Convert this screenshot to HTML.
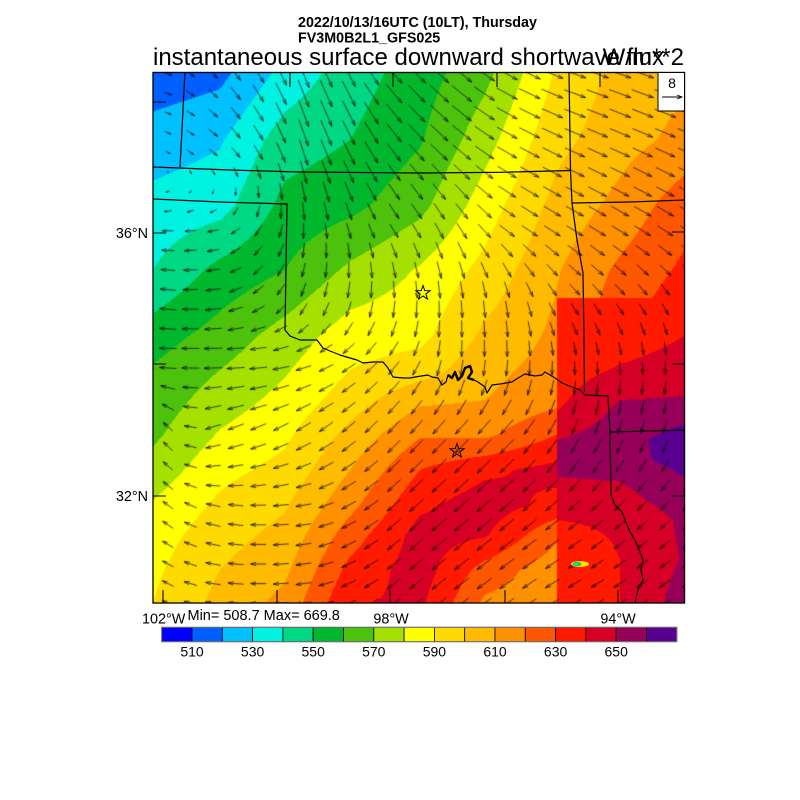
<!DOCTYPE html>
<html><head><meta charset="utf-8">
<style>
html,body{margin:0;padding:0;background:#fff;}
#wrap{position:relative;width:800px;height:800px;overflow:hidden;background:#fff;}
canvas{position:absolute;left:0;top:0;}
svg{position:absolute;left:0;top:0;}
text{font-family:"Liberation Sans",Arial,sans-serif;fill:#000;}
</style></head><body>
<div id="wrap">
<canvas id="c" width="800" height="800"></canvas>
<svg width="800" height="800" viewBox="0 0 800 800">
  <!-- speck -->
  <ellipse cx="580" cy="564" rx="9" ry="3" fill="#ffe000"/>
  <ellipse cx="577" cy="564" rx="4.5" ry="2.2" fill="#40c020"/>
  <ellipse cx="576" cy="564" rx="2" ry="1.8" fill="#00d8d0"/>
  <g fill="none" stroke="#000" stroke-width="1.2" stroke-linejoin="round">
    <path d="M185,72 L180,167"/>
    <path d="M153,167 L230,170 L300,172 L420,173 L500,172.3 L571,170.5"/>
    <path d="M569,72 L570.5,171 L572,203 L577,240 L583,273 L584,340 L584.5,392"/>
    <path d="M572,203 L630,202 L685,200"/>
    <path d="M153,199 L220,202 L287,204 L285,330"/>
    <path d="M285,330 L290,336 L295,338 L300,340 L317,340 L323,348 L330,351 L340,355 L350,358 L357,360 L363,363 L373,362 L383,362 L388,368 L393,377 L403,378 L410,378 L415,377 L428,375 L432,377 L438,378 L442,385 L446,382 L448,375 L452,378 L455,372 L458,380 L462,376 L465,368 L470,366 L472,372 L468,378 L474,380 L478,382 L485,387 L487,393 L492,385 L500,384 L512,382 L518,378 L525,374 L535,376 L542,375 L545,372 L550,375 L555,378 L562,383 L572,387 L580,390 L585,395 L608,396"/>
    <path d="M448,375 L452,378 L455,372 L458,380 L462,376 L465,368 L470,366 L472,372 L468,378 L474,380" stroke-width="2.4"/>
    <path d="M608,396 L610,432 L611,495 L615,505 L622,512 L625,520 L630,532 L635,540 L640,552 L643,560 L641,570 L643,580 L638,590 L636,598 L635,603"/>
    <path d="M610,432 L650,431 L685,430"/>
  </g>
  <!-- stars -->
  <g fill="none" stroke="#000" stroke-width="1">
    <polygon transform="translate(423,293)" points="0,-7.5 1.76,-2.43 7.13,-2.32 2.85,0.93 4.41,6.07 0,3 -4.41,6.07 -2.85,0.93 -7.13,-2.32 -1.76,-2.43"/>
    <polygon transform="translate(457,451)" points="0,-7.5 1.76,-2.43 7.13,-2.32 2.85,0.93 4.41,6.07 0,3 -4.41,6.07 -2.85,0.93 -7.13,-2.32 -1.76,-2.43"/>
  </g>
  <!-- ticks -->
  <g stroke="#000" stroke-width="1.1" fill="none">
    <path d="M153,102 h13 M153,233 h13 M153,364 h13 M153,496 h13"/>
    <path d="M685,232 h-13 M685,364 h-13 M685,496 h-13"/>
    <path d="M290,72 v15 M393,72 v15 M497,72 v15 M600,72 v15"/>
    <path d="M163,603 v-13 M277,603 v-13 M390,603 v-13 M505,603 v-13 M618,603 v-13"/>
  </g>
  <!-- frame -->
  <rect x="153" y="72.5" width="531.5" height="530.5" fill="none" stroke="#000" stroke-width="1.3"/>
  <!-- ref vector legend -->
  <rect x="658" y="72.5" width="26.5" height="38.5" fill="#fff" stroke="#000" stroke-width="1"/>
  <text x="672" y="88" font-size="14" text-anchor="middle">8</text>
  <path d="M662,97 L682,97 M677,95 L682,97 L677,99" stroke="#000" stroke-width="0.9" fill="none"/>
  <!-- titles -->
  <text x="298" y="27" font-size="14.3" font-weight="bold">2022/10/13/16UTC (10LT), Thursday</text>
  <text x="298" y="42.5" font-size="14.3" font-weight="bold">FV3M0B2L1_GFS025</text>
  <text x="153" y="65" font-size="24">instantaneous surface downward shortwave flux</text>
  <text x="684" y="65" font-size="24" text-anchor="end">W/m**2</text>
  <!-- axis labels -->
  <text x="148" y="238" font-size="14.4" text-anchor="end">36°N</text>
  <text x="148" y="501" font-size="14.4" text-anchor="end">32°N</text>
  <text x="142" y="623.5" font-size="14.4">102°W</text>
  <text x="391" y="623.5" font-size="14.4" text-anchor="middle">98°W</text>
  <text x="618" y="623.5" font-size="14.4" text-anchor="middle">94°W</text>
  <text x="187.5" y="620" font-size="14.5">Min= 508.7 Max= 669.8</text>
  <!-- colorbar -->
  <g id="cb"></g>
  <g font-size="14" text-anchor="middle">
    <text x="192" y="656.5">510</text>
    <text x="252.6" y="656.5">530</text>
    <text x="313.2" y="656.5">550</text>
    <text x="373.8" y="656.5">570</text>
    <text x="434.4" y="656.5">590</text>
    <text x="495" y="656.5">610</text>
    <text x="555.6" y="656.5">630</text>
    <text x="616.2" y="656.5">650</text>
  </g>
</svg>
</div>
<script>
(function(){
var COLS=["#0000ff","#0060ff","#00c0ff","#00f2e0","#00d884","#00b82e","#4cc20c","#a5e100","#ffff00","#ffda00","#ffbb00","#ff9000","#ff5600","#ff1a00","#d60026","#960059","#5a0090"];
var cb=document.getElementById('cb');var ns="http://www.w3.org/2000/svg";
for(var i=0;i<17;i++){var r=document.createElementNS(ns,'rect');r.setAttribute('x',161.7+30.3*i);r.setAttribute('y',627.3);r.setAttribute('width',30.3);r.setAttribute('height',14.4);r.setAttribute('fill',COLS[i]);r.setAttribute('stroke','#000');r.setAttribute('stroke-width','0.8');cb.appendChild(r);}
var fr=document.createElementNS(ns,'rect');fr.setAttribute('x',161.7);fr.setAttribute('y',627.3);fr.setAttribute('width',515.1);fr.setAttribute('height',14.4);fr.setAttribute('fill','none');fr.setAttribute('stroke','#777');fr.setAttribute('stroke-width','1');cb.appendChild(fr);

var MX=[153,220,285,350,420,485,556,620,685];
var MY=[72,140,205,270,335,370,400,435,470,505,535,570,603];
var MV=[
[513,517,533,545,555,567,591,603,608],
[525,529,545,550,559,576,597,606,613],
[533,536,553,557,567,585,603,613,626],
[540,553,560,572,581,593,609,622,632],
[555,564,574,585,587,602,612,628,640],
[561,570,579,590,595,607,614,630,640],
[564,575,583,595,608,610,617,630,640],
[568,581,588,603,619,618,630,640,640],
[574,587,593,610,630,638,643,645,645],
[581,592,599,617,638,645,637,640,640],
[585,596,603,625,644,641,622,630,630],
[588,600,608,633,645,626,614,630,630],
[590,603,613,639,642,618,613,630,630]];
var RX=[558,620,685];
var RY=[298,335,370,400,420,440,460,477,500,520,560,603];
var RV=[[631,634,640],[633,635,640],[635,641,644],[638,650,651],[642,654,659],[650,657,664],[655,656,664],[650,651,660],[645,646,656],[640,641,652],[635,640,651],[633,640,655]];
function bil(xs,ys,rows,x,y){
 x=Math.max(xs[0],Math.min(xs[xs.length-1],x));y=Math.max(ys[0],Math.min(ys[ys.length-1],y));
 var i=0;while(i<xs.length-2&&x>xs[i+1])i++;var j=0;while(j<ys.length-2&&y>ys[j+1])j++;
 var tx=(x-xs[i])/(xs[i+1]-xs[i]),ty=(y-ys[j])/(ys[j+1]-ys[j]);
 return rows[j][i]*(1-tx)*(1-ty)+rows[j][i+1]*tx*(1-ty)+rows[j+1][i]*(1-tx)*ty+rows[j+1][i+1]*tx*ty;}
function hex(h){return [parseInt(h.substr(1,2),16),parseInt(h.substr(3,2),16),parseInt(h.substr(5,2),16)];}
var RGB=COLS.map(hex);
var cv=document.getElementById('c');var ctx=cv.getContext('2d');
var X0=153,Y0=72,W=532,H=531;
var img=ctx.createImageData(W,H);var d=img.data;
for(var py=0;py<H;py++){for(var px=0;px<W;px++){
 var x=X0+px+0.5,y=Y0+py+0.5,v;
 if(x>=557.5&&y>=298)v=bil(RX,RY,RV,x,y);else v=bil(MX,MY,MV,x,y);
 var b=Math.floor((v-500)/10);if(b<0)b=0;if(b>16)b=16;
 var c=RGB[b];var o=(py*W+px)*4;d[o]=c[0];d[o+1]=c[1];d[o+2]=c[2];d[o+3]=255;}}
ctx.putImageData(img,X0,Y0);
var WX=[165,215,260,305,350,400,450,510,570,630,680];
var WY=[80,150,230,300,360,430,510,590];
var UV=[
[[7,2],[8,8],[10,16],[10,25],[12,23],[15,16],[18,16],[19,10],[20,7],[20,7],[20,7]],
[[4,2],[8,6],[8,13],[8,24],[11,22],[13,16],[16,14],[18,10],[18,8],[18,8],[18,8]],
[[-10,0],[-10,2],[-6,10],[0,14],[4,14],[8,12],[8,15],[14,10],[15,9],[15,9],[14,9]],
[[-15,-2],[-14,2],[-10,7],[-5,12],[-3,15],[0,16],[1,16],[3,15],[8,10],[8,10],[6,10]],
[[-16,0],[-17,0],[-16,1],[-14,4],[-12,8],[-9,12],[-1,15],[0,15],[1,12],[1,12],[0,12]],
[[-8,-9],[-14,5],[-14,6],[-13,8],[-12,10],[-11,12],[-12,13],[-12,13],[-6,14],[-4,13],[-4,12]],
[[-9,-7],[-13,-3],[-14,0],[-14,2],[-13,7],[-12,11],[-14,12],[-13,11],[-11,9],[-10,9],[-9,9]],
[[-10,-5],[-14,-2],[-14,0],[-14,2],[-13,6],[-12,10],[-13,10],[-13,9],[-12,7],[-11,7],[-10,7]]];
var U=UV.map(function(r){return r.map(function(p){return p[0]*1.1;});});
var V=UV.map(function(r){return r.map(function(p){return p[1]*1.1;});});
ctx.save();ctx.beginPath();ctx.rect(153,72,531.5,531);ctx.clip();
ctx.strokeStyle="rgba(0,0,0,0.85)";ctx.lineWidth=0.85;
for(var k=0;k<28;k++){var cy=74+19.6*k;for(var i2=-1;i2<24;i2++){var cx=168+22.6*i2;
 var dx=bil(WX,WY,U,cx,cy),dy=bil(WX,WY,V,cx,cy);var len=Math.sqrt(dx*dx+dy*dy);if(len<1)continue;
 var x0=cx-dx/2,y0=cy-dy/2,x1=cx+dx/2,y1=cy+dy/2;var a=Math.atan2(dy,dx);var hl=Math.min(5.5,0.4*len);
 ctx.beginPath();ctx.moveTo(x0,y0);ctx.lineTo(x1,y1);
 ctx.moveTo(x1-hl*Math.cos(a-0.3),y1-hl*Math.sin(a-0.3));ctx.lineTo(x1,y1);ctx.lineTo(x1-hl*Math.cos(a+0.3),y1-hl*Math.sin(a+0.3));
 ctx.stroke();}}
ctx.restore();
})();
</script>
</body></html>
